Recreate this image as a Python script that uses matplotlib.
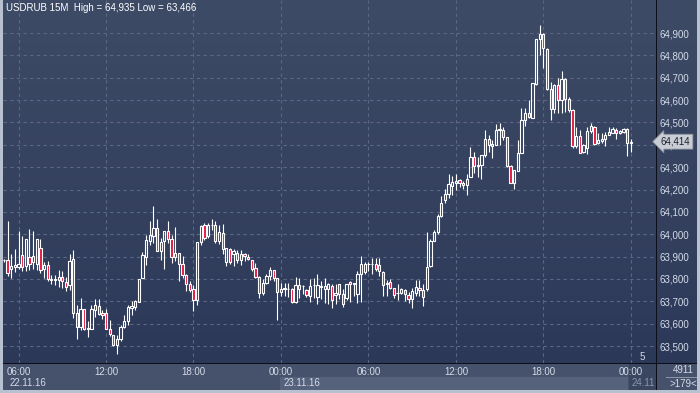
import numpy as np
import matplotlib
matplotlib.use('Agg')
import matplotlib.pyplot as plt
from matplotlib.colors import LinearSegmentedColormap
import matplotlib.transforms as mtransforms

plt.rcParams['font.family'] = ['Liberation Sans', 'DejaVu Sans']

# ---- data: USDRUB 15M candles, 22.11.16 05:00 .. 24.11.16 00:00 ----
opens = [63.884, 63.887, 63.846, 63.854, 63.855, 63.906, 63.858, 63.900, 63.876, 63.866,
         63.940, 63.846, 63.861, 63.795, 63.796, 63.795, 63.810, 63.788, 63.772, 63.891,
         63.649, 63.585, 63.664, 63.578, 63.578, 63.660, 63.679, 63.649, 63.649, 63.578,
         63.551, 63.506, 63.533, 63.585, 63.610, 63.670, 63.676, 63.697, 63.804, 63.900,
         63.972, 63.991, 64.028, 63.924, 63.969, 64.016, 63.979, 63.899, 63.916, 63.867,
         63.816, 63.778, 63.757, 63.707, 63.966, 64.043, 63.990, 64.040, 64.040, 63.970,
         64.007, 63.878, 63.933, 63.913, 63.916, 63.884, 63.913, 63.900, 63.884, 63.851,
         63.810, 63.739, 63.784, 63.813, 63.839, 63.803, 63.742, 63.757, 63.754, 63.754,
         63.699, 63.757, 63.769, 63.749, 63.724, 63.772, 63.719, 63.766, 63.754, 63.754,
         63.768, 63.727, 63.776, 63.734, 63.716, 63.788, 63.779, 63.731, 63.824, 63.832,
         63.866, 63.866, 63.868, 63.862, 63.832, 63.779, 63.788, 63.758, 63.736, 63.739,
         63.749, 63.728, 63.709, 63.739, 63.758, 63.751, 63.754, 63.858, 63.969, 64.011,
         64.082, 64.152, 64.182, 64.216, 64.227, 64.242, 64.231, 64.221, 64.254, 64.346,
         64.306, 64.309, 64.354, 64.425, 64.396, 64.401, 64.468, 64.466, 64.433, 64.306,
         64.227, 64.284, 64.364, 64.513, 64.540, 64.522, 64.672, 64.872, 64.896, 64.827,
         64.648, 64.558, 64.666, 64.600, 64.693, 64.607, 64.555, 64.394, 64.440, 64.369,
         64.384, 64.461, 64.481, 64.406, 64.418, 64.428, 64.443, 64.455, 64.466, 64.451,
         64.458, 64.470, 64.409]
highs = [63.890, 64.057, 63.910, 63.936, 64.013, 63.990, 63.980, 64.025, 64.015, 63.980,
         63.980, 63.876, 63.879, 63.816, 63.816, 63.840, 63.836, 63.807, 63.910, 63.930,
         63.682, 63.714, 63.664, 63.610, 63.682, 63.710, 63.712, 63.660, 63.664, 63.618,
         63.551, 63.551, 63.596, 63.637, 63.685, 63.700, 63.707, 63.801, 63.921, 63.998,
         64.058, 64.125, 64.066, 63.984, 64.016, 64.061, 63.996, 64.033, 63.916, 63.901,
         63.822, 63.790, 63.775, 63.966, 64.043, 64.050, 64.050, 64.066, 64.061, 64.040,
         64.045, 63.937, 63.937, 63.933, 63.928, 63.928, 63.916, 63.910, 63.884, 63.873,
         63.813, 63.799, 63.821, 63.854, 63.839, 63.806, 63.784, 63.784, 63.784, 63.761,
         63.809, 63.806, 63.772, 63.754, 63.799, 63.806, 63.821, 63.791, 63.806, 63.783,
         63.776, 63.776, 63.776, 63.754, 63.779, 63.790, 63.783, 63.835, 63.902, 63.877,
         63.877, 63.895, 63.895, 63.895, 63.835, 63.794, 63.798, 63.761, 63.776, 63.758,
         63.754, 63.743, 63.761, 63.794, 63.794, 63.779, 64.011, 63.977, 64.021, 64.090,
         64.170, 64.204, 64.269, 64.260, 64.269, 64.246, 64.239, 64.269, 64.391, 64.369,
         64.346, 64.354, 64.466, 64.443, 64.421, 64.493, 64.499, 64.481, 64.436, 64.309,
         64.287, 64.421, 64.563, 64.563, 64.600, 64.678, 64.872, 64.935, 64.900, 64.831,
         64.682, 64.672, 64.697, 64.730, 64.697, 64.612, 64.558, 64.478, 64.466, 64.403,
         64.481, 64.496, 64.484, 64.451, 64.451, 64.458, 64.481, 64.478, 64.473, 64.466,
         64.473, 64.473, 64.428]
lows = [63.878, 63.813, 63.803, 63.831, 63.843, 63.836, 63.837, 63.840, 63.843, 63.840,
        63.825, 63.806, 63.790, 63.776, 63.775, 63.766, 63.760, 63.746, 63.750, 63.627,
        63.530, 63.572, 63.572, 63.540, 63.578, 63.630, 63.640, 63.620, 63.575, 63.547,
        63.498, 63.466, 63.521, 63.580, 63.596, 63.637, 63.663, 63.697, 63.804, 63.861,
        63.954, 63.961, 63.924, 63.887, 63.846, 63.961, 63.872, 63.879, 63.790, 63.804,
        63.745, 63.742, 63.655, 63.685, 63.954, 63.976, 63.985, 64.020, 63.960, 63.955,
        63.913, 63.858, 63.869, 63.858, 63.873, 63.863, 63.881, 63.885, 63.836, 63.806,
        63.716, 63.727, 63.776, 63.794, 63.791, 63.615, 63.724, 63.724, 63.720, 63.694,
        63.694, 63.716, 63.731, 63.720, 63.699, 63.713, 63.687, 63.709, 63.694, 63.687,
        63.672, 63.687, 63.709, 63.675, 63.705, 63.698, 63.724, 63.694, 63.697, 63.824,
        63.835, 63.824, 63.835, 63.813, 63.724, 63.724, 63.754, 63.716, 63.704, 63.731,
        63.701, 63.694, 63.669, 63.724, 63.724, 63.679, 63.746, 63.853, 63.969, 64.000,
        64.075, 64.140, 64.160, 64.175, 64.197, 64.212, 64.204, 64.175, 64.254, 64.272,
        64.257, 64.249, 64.346, 64.369, 64.339, 64.399, 64.399, 64.421, 64.301, 64.227,
        64.204, 64.284, 64.364, 64.484, 64.518, 64.522, 64.667, 64.801, 64.742, 64.645,
        64.513, 64.540, 64.543, 64.543, 64.548, 64.548, 64.384, 64.384, 64.364, 64.364,
        64.361, 64.454, 64.399, 64.403, 64.409, 64.394, 64.443, 64.451, 64.428, 64.448,
        64.451, 64.349, 64.369]
closes = [63.886, 63.828, 63.857, 63.861, 63.866, 63.854, 63.980, 63.866, 63.903, 63.980,
          63.840, 63.861, 63.800, 63.800, 63.800, 63.810, 63.790, 63.766, 63.880, 63.649,
          63.587, 63.664, 63.578, 63.580, 63.664, 63.682, 63.645, 63.637, 63.578, 63.553,
          63.506, 63.533, 63.585, 63.613, 63.676, 63.679, 63.703, 63.801, 63.909, 63.976,
          63.996, 64.028, 63.924, 63.966, 64.016, 63.979, 63.897, 63.916, 63.867, 63.816,
          63.778, 63.752, 63.707, 63.966, 64.036, 63.984, 64.040, 64.043, 63.970, 64.010,
          63.933, 63.937, 63.878, 63.925, 63.884, 63.910, 63.901, 63.888, 63.846, 63.810,
          63.739, 63.784, 63.813, 63.839, 63.803, 63.742, 63.757, 63.758, 63.755, 63.699,
          63.773, 63.772, 63.770, 63.727, 63.769, 63.774, 63.772, 63.767, 63.768, 63.779,
          63.704, 63.736, 63.734, 63.687, 63.776, 63.776, 63.780, 63.824, 63.865, 63.865,
          63.868, 63.869, 63.843, 63.835, 63.771, 63.780, 63.761, 63.728, 63.737, 63.754,
          63.731, 63.709, 63.746, 63.764, 63.751, 63.719, 63.853, 63.969, 64.011, 64.082,
          64.138, 64.182, 64.224, 64.234, 64.239, 64.231, 64.221, 64.249, 64.346, 64.306,
          64.310, 64.354, 64.425, 64.399, 64.403, 64.466, 64.469, 64.436, 64.304, 64.230,
          64.287, 64.364, 64.513, 64.540, 64.525, 64.678, 64.872, 64.896, 64.831, 64.648,
          64.558, 64.667, 64.600, 64.693, 64.607, 64.555, 64.394, 64.439, 64.364, 64.399,
          64.463, 64.484, 64.403, 64.421, 64.428, 64.443, 64.458, 64.470, 64.451, 64.463,
          64.470, 64.406, 64.414]

time_labels = ['06:00', '12:00', '18:00', '00:00', '06:00', '12:00', '18:00', '00:00']
time_label_idx = [4, 28, 52, 76, 100, 124, 148, 172]
price_ticks = [63.5, 63.6, 63.7, 63.8, 63.9, 64.0, 64.1, 64.2, 64.3, 64.4, 64.5,
               64.6, 64.7, 64.8, 64.9]
title_text = 'USDRUB 15M  High = 64,935 Low = 63,466'
dates = ['22.11.16', '23.11.16', '24.11']

W, H = 700, 393
fig = plt.figure(figsize=(W / 100, H / 100), dpi=100)

# background
bg = fig.add_axes([0, 0, 1, 1])
bg.set_axis_off()
cmap = LinearSegmentedColormap.from_list('bgc', ['#2b3757', '#3e4b66'])
grad = np.linspace(0, 1, 256).reshape(-1, 1)
bg.imshow(grad, aspect='auto', cmap=cmap, extent=[0, 1, 0, 1], origin='lower',
          transform=bg.transAxes)
bg.set_xlim(0, 1)
bg.set_ylim(0, 1)

def px_rect(x0, y0, x1, y1, **kw):
    bg.add_patch(plt.Rectangle((x0 / W, 1 - y1 / H), (x1 - x0) / W, (y1 - y0) / H,
                               transform=bg.transAxes, **kw))

# time axis strip
px_rect(0, 363, 700, 393, facecolor='#46526c', edgecolor='none')
px_rect(280, 377, 628, 391, facecolor='#56627b', edgecolor='none')
px_rect(629, 363, 656, 391, facecolor='#3a4660', edgecolor='none')
# frame lines
px_rect(0, 0, 3, 393, facecolor='#b8c1d0', edgecolor='none')
px_rect(0, 390, 700, 393, facecolor='#b8c1d0', edgecolor='none')
px_rect(697, 0, 700, 393, facecolor='#b8c1d0', edgecolor='none')
px_rect(3, 362.5, 697, 363.8, facecolor='#0c0f18', edgecolor='none')
px_rect(655.6, 0, 656.8, 390, facecolor='#0c0f18', edgecolor='none')
px_rect(666, 377, 697, 378, facecolor='#8c96aa', edgecolor='none')

# main axes
ax = fig.add_axes([3 / W, (H - 362.5) / H, (655.6 - 3) / W, 362.5 / H])
ax.set_facecolor('none')
for s in ax.spines.values():
    s.set_visible(False)
ax.set_xlim(-0.27, 178.8)
ax.set_ylim(64.9 - (362.5 - 33) / 223.6, 64.9 + 33 / 223.6)

idx = np.arange(len(opens))
o = np.array(opens); c = np.array(closes); h = np.array(highs); l = np.array(lows)
top = np.maximum(o, c); bot = np.minimum(o, c)
up = c >= o

ax.vlines(idx, l, bot, color='white', lw=0.8, zorder=3)
ax.vlines(idx, top, h, color='white', lw=0.8, zorder=3)
face = [(0, 0, 0, 0) if u else '#e3173c' for u in up]
ax.bar(idx, top - bot, bottom=bot, width=0.62, color=face, edgecolor='white',
       linewidth=0.8, zorder=4)

ax.set_yticks(price_ticks)
ax.set_yticklabels([f'{v:.3f}'.replace('.', ',') for v in price_ticks])
ax.yaxis.tick_right()
ax.tick_params(axis='y', length=0, pad=3, labelsize=7, labelcolor='#d4dbe8')
ax.set_xticks(time_label_idx)
ax.set_xticklabels(time_labels)
ax.tick_params(axis='x', length=0, pad=3, labelsize=7, labelcolor='#d4dbe8')
ax.grid(True, color='#5c6882', lw=0.8, ls=(0, (3, 3)))
ax.set_axisbelow(True)

# current price tag
trans = mtransforms.blended_transform_factory(ax.transAxes, ax.transData)
ax.text(1.008, closes[-1], f'{closes[-1]:.3f}'.replace('.', ','), transform=trans,
        ha='left', va='center', fontsize=7, color='#1a1e28', zorder=10,
        bbox=dict(boxstyle='larrow,pad=0.25', fc='#c9cdd5', ec='#8a909c', lw=0.6),
        clip_on=False)

fig.text(6 / W, 1 - 8 / H, title_text, color='white', fontsize=7, va='center', ha='left')
fig.text(10 / W, 1 - 383 / H, dates[0], color='#d4dbe8', fontsize=7, va='center')
fig.text(284 / W, 1 - 383 / H, dates[1], color='#d4dbe8', fontsize=7, va='center')
fig.text(632 / W, 1 - 383 / H, dates[2], color='#8d97ab', fontsize=7, va='center')
fig.text(683 / W, 1 - 370 / H, '4911', color='#d4dbe8', fontsize=7, va='center', ha='center')
fig.text(683 / W, 1 - 384 / H, '>179<', color='#d4dbe8', fontsize=7, va='center', ha='center')
fig.text(642 / W, 1 - 357 / H, '5', color='#d4dbe8', fontsize=7, va='center', ha='center')

fig.savefig('out.png', dpi=100)
